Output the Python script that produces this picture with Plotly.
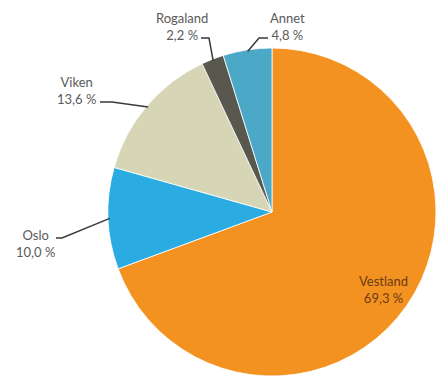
import math
import plotly.graph_objects as go

regions = ["Vestland", "Oslo", "Viken", "Rogaland", "Annet"]
shares = [69.3, 10.0, 13.6, 2.2, 4.8]
share_labels = ["69,3 %", "10,0 %", "13,6 %", "2,2 %", "4,8 %"]
colors = ["#F39221", "#2AABE2", "#D6D5B6", "#58584F", "#4BA8C6"]

W, H = 436, 378
CX, CY, R = 272, 212, 164

fig = go.Figure(go.Pie(
    labels=regions, values=shares, sort=False, direction="clockwise", rotation=0,
    marker=dict(colors=colors, line=dict(color="white", width=0.8)),
    textinfo="none", hoverinfo="label+percent", showlegend=False,
    domain=dict(x=[(CX - R) / W, (CX + R) / W], y=[1 - (CY + R) / H, 1 - (CY - R) / H]),
))

def px(x):
    return x / W

def py(y):
    return 1 - y / H

total = sum(shares)
cum = 0
mids = []
for v in shares:
    mids.append((cum + v / 2) / total * 360)
    cum += v

def edge(i, f=0.99):
    a = math.radians(mids[i])
    return CX + R * f * math.sin(a), CY - R * f * math.cos(a)

# label block centres (pixels) and leader elbow points
label_pos = {1: (35, 243), 2: (76, 90), 3: (182, 27), 4: (287, 27)}
leader_pts = {
    1: [(56, 238), (62, 238)],
    2: [(100, 102), (112, 102)],
    3: [(201, 38), (209, 38)],
    4: [(268, 38), (259, 38)],
}

annotations = []
shapes = []
for i, (cx, cy) in label_pos.items():
    annotations.append(dict(
        x=px(cx), y=py(cy), xref="paper", yref="paper", showarrow=False,
        text=f"{regions[i]}<br>{share_labels[i]}", align="center",
        xanchor="center", yanchor="middle",
        font=dict(family="Lato, Open Sans, sans-serif", size=13, color="#5a5a5a"),
    ))
    pts = leader_pts[i] + [edge(i)]
    path = "M " + " L ".join(f"{px(x)},{py(y)}" for x, y in pts)
    shapes.append(dict(type="path", xref="paper", yref="paper", path=path,
                       line=dict(color="#3a3a3a", width=1.5)))

# Vestland inside label along its mid-angle
a = math.radians(mids[0])
vx, vy = CX + R * 0.83 * math.sin(a), CY - R * 0.83 * math.cos(a)
annotations.append(dict(
    x=px(vx), y=py(vy), xref="paper", yref="paper", showarrow=False,
    text=f"{regions[0]}<br>{share_labels[0]}", align="center",
    xanchor="center", yanchor="middle",
    font=dict(family="Lato, Open Sans, sans-serif", size=13, color="#6a3d12"),
))

fig.update_layout(
    width=W, height=H, margin=dict(l=0, r=0, t=0, b=0),
    paper_bgcolor="white", plot_bgcolor="white",
    annotations=annotations, shapes=shapes,
)

fig.write_html("out.html")
